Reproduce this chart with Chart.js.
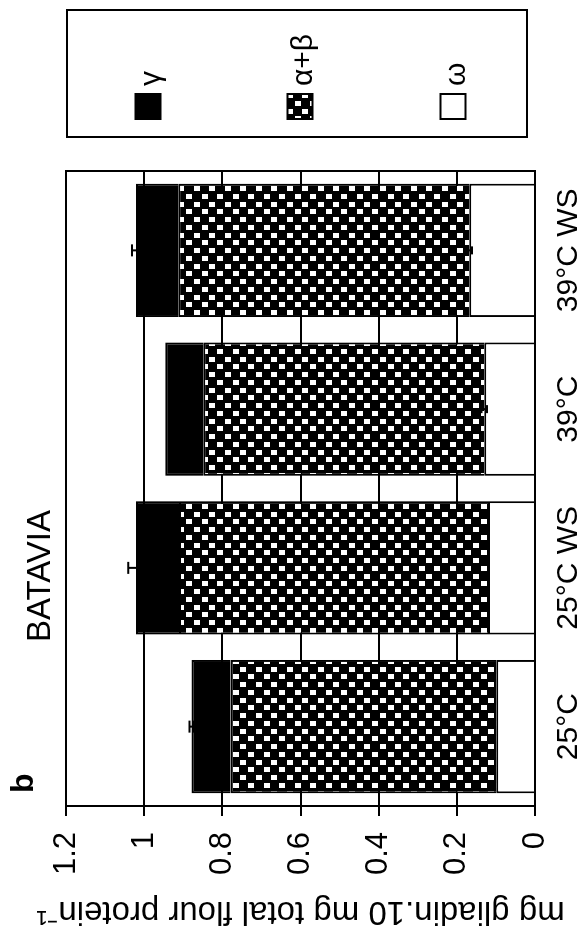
<!DOCTYPE html>
<html>
<head>
<meta charset="utf-8">
<script src="https://cdn.jsdelivr.net/npm/chart.js@4/dist/chart.umd.min.js"></script>
<style>
  html, body { margin: 0; padding: 0; background: #fff; overflow: hidden; }
  /* the figure is laid out landscape and turned a quarter turn to read sideways */
  #wrap {
    position: absolute; left: 0; top: 0;
    width: 943px; height: 586px;
    transform-origin: 0 0;
    transform: translate(0, 943px) rotate(-90deg);
  }
</style>
</head>
<body>
<div id="wrap"><canvas id="c" width="943" height="586"></canvas></div>
<script>
// Gliadin fractions per treatment, cultivar Batavia
const categories = ['25°C', '25°C WS', '39°C', '39°C WS'];
const omega     = [0.099, 0.120, 0.130, 0.168];
const alphaBeta = [0.680, 0.791, 0.719, 0.745];
const gamma     = [0.100, 0.110, 0.097, 0.108];
// standard errors: on the total (top of stack) and on the omega fraction
const totalErr  = [0.005, 0.020, 0.000, 0.010];
const omegaErr  = [0.000, 0.000, 0.007, 0.007];
const seriesLabels = ['γ', 'α+β', 'ω'];
const yTickValues = [0, 0.2, 0.4, 0.6, 0.8, 1, 1.2];

const FONT = '"Liberation Sans", Arial, Helvetica, sans-serif';

// black ground with small white squares in a staggered grid
function checkerPattern() {
  const t = document.createElement('canvas');
  t.width = 31; t.height = 31;
  const g = t.getContext('2d');
  g.fillStyle = '#000';
  g.fillRect(0, 0, 31, 31);
  g.fillStyle = '#fff';
  for (let r = 0; r < 4; r++) {
    const yy = Math.round(r * 7.75);
    const off = (r % 2) ? 7.75 : 0;
    for (let k = 0; k < 2; k++) {
      const xx = Math.round(off + k * 15.5);
      g.fillRect(xx, yy, 5, 6);
    }
  }
  return document.getElementById('c').getContext('2d').createPattern(t, 'repeat');
}
const checker = checkerPattern();

const frame = {
  id: 'frame',
  afterDatasetsDraw(chart) {
    const { ctx, chartArea: a } = chart;
    ctx.save();
    ctx.strokeStyle = '#000';
    ctx.lineWidth = 2;
    ctx.strokeRect(a.left, a.top, a.right - a.left, a.bottom - a.top);
    ctx.restore();
  }
};

const errorBars = {
  id: 'errorBars',
  afterDatasetsDraw(chart) {
    const { ctx } = chart;
    const xs = chart.scales.x, ys = chart.scales.y;
    ctx.save();
    ctx.strokeStyle = '#000';
    ctx.lineWidth = 2;
    const whisker = (cx, v, e, cap) => {
      if (!(e > 0)) return;
      const y1 = ys.getPixelForValue(v - e);
      const y2 = ys.getPixelForValue(v + e);
      ctx.beginPath();
      ctx.moveTo(cx, y1); ctx.lineTo(cx, y2);
      ctx.moveTo(cx - cap, y1); ctx.lineTo(cx + cap, y1);
      ctx.moveTo(cx - cap, y2); ctx.lineTo(cx + cap, y2);
      ctx.stroke();
    };
    categories.forEach((c, i) => {
      const cx = xs.getPixelForValue(i);
      const total = omega[i] + alphaBeta[i] + gamma[i];
      whisker(cx, total, totalErr[i], 6);
      whisker(cx, omega[i], omegaErr[i], 4);
    });
    ctx.restore();
  }
};

const legendBox = {
  id: 'legendBox',
  afterDraw(chart) {
    const { ctx } = chart;
    const box = { x: 806, y: 67, w: 127, h: 460 };
    ctx.save();
    ctx.strokeStyle = '#000';
    ctx.lineWidth = 2;
    ctx.strokeRect(box.x, box.y, box.w, box.h);
    // legend lists the top of the stack first
    const order = [2, 1, 0];
    const centres = [148, 300, 453];
    const sw = 25;
    order.forEach((di, k) => {
      const ds = chart.data.datasets[di];
      const cy = centres[k];
      ctx.fillStyle = ds.backgroundColor;
      ctx.fillRect(824, cy - sw / 2, sw, sw);
      ctx.lineWidth = 2;
      ctx.strokeStyle = '#000';
      ctx.strokeRect(824, cy - sw / 2, sw, sw);
      ctx.fillStyle = '#000';
      ctx.font = '30px ' + FONT;
      ctx.textAlign = 'left';
      ctx.textBaseline = 'middle';
      ctx.fillText(ds.label, 857, cy + 4);
    });
    ctx.restore();
  }
};

const panelText = {
  id: 'panelText',
  afterDraw(chart) {
    const { ctx } = chart;
    ctx.save();
    ctx.fillStyle = '#000';
    ctx.textAlign = 'left';
    ctx.textBaseline = 'alphabetic';
    ctx.font = 'bold 32px ' + FONT;
    ctx.fillText('b', 150, 33);
    ctx.font = '33px ' + FONT;
    ctx.fillText('BATAVIA', 301, 50);
    ctx.restore();
  }
};

new Chart(document.getElementById('c'), {
  type: 'bar',
  data: {
    labels: categories,
    datasets: [
      { label: seriesLabels[2], data: omega,     backgroundColor: '#fff' },
      { label: seriesLabels[1], data: alphaBeta, backgroundColor: checker },
      { label: seriesLabels[0], data: gamma,     backgroundColor: '#000' }
    ]
  },
  options: {
    responsive: false,
    devicePixelRatio: 1,
    animation: false,
    events: [],
    layout: { padding: { top: 66, right: 171, left: 0, bottom: 0 } },
    datasets: {
      bar: {
        borderColor: '#000',
        borderWidth: 2,
        categoryPercentage: 1,
        barPercentage: 0.84
      }
    },
    plugins: { legend: { display: false }, tooltip: { enabled: false } },
    scales: {
      x: {
        stacked: true,
        grid: { display: false },
        border: { display: true, color: '#000', width: 2 },
        ticks: { color: '#000', padding: 8, font: { family: FONT, size: 30 } },
        afterFit(s) { s.height = 51; }
      },
      y: {
        stacked: true,
        min: 0,
        max: 1.2,
        afterBuildTicks(s) { s.ticks = yTickValues.map(v => ({ value: v })); },
        grid: { color: '#000', lineWidth: 2, tickLength: 10, drawTicks: true },
        border: { display: true, color: '#000', width: 2 },
        ticks: {
          color: '#000',
          padding: 16,
          font: { family: FONT, size: 31 },
          callback: v => String(+Number(v).toFixed(1))
        },
        title: {
          display: true,
          text: 'mg gliadin.10 mg total flour protein⁻¹',
          color: '#000',
          font: { family: FONT, size: 33 },
          padding: { top: 12, bottom: 0 }
        },
        afterFit(s) { s.width = 137; }
      }
    }
  },
  plugins: [frame, errorBars, legendBox, panelText]
});
</script>
</body>
</html>
